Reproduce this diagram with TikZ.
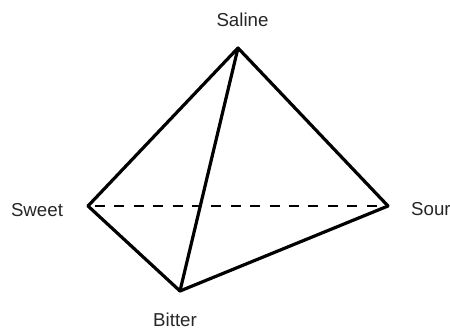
\documentclass[tikz,border=0pt]{standalone}
\usepackage{fontspec}
\setmainfont{Liberation Sans}
\tikzset{
  edge/.style={line width=3.2pt,line cap=round,black},
  hidden/.style={line width=2.8pt,dash pattern=on 10pt off 9.4pt,dash phase=12.4pt,black},
  lbl/.style={font=\fontsize{18.7pt}{22pt}\selectfont,text=black!85,inner sep=0pt,anchor=base}
}
\begin{document}
\begin{tikzpicture}[x=1pt,y=-1pt]
\useasboundingbox (0,0) rectangle (450,329);
\coordinate (saline) at (238,48);
\coordinate (sweet) at (88,206);
\coordinate (sour) at (388,206);
\coordinate (bitter) at (180,291);
\draw[hidden] (sweet) -- (sour);
\draw[edge] (sweet) -- (saline);
\draw[edge] (saline) -- (sour);
\draw[edge] (sour) -- (bitter);
\draw[edge] (bitter) -- (sweet);
\draw[edge] (saline) -- (bitter);
\node[lbl] (lsaline) at (242.5,27) {Saline};
\node[lbl] (lsweet) at (37,216) {Sweet};
\node[lbl,anchor=base west] (lsour) at (411,215.5) {Sour};
\node[lbl] (lbitter) at (175,326) {Bitter};
\end{tikzpicture}
\end{document}
